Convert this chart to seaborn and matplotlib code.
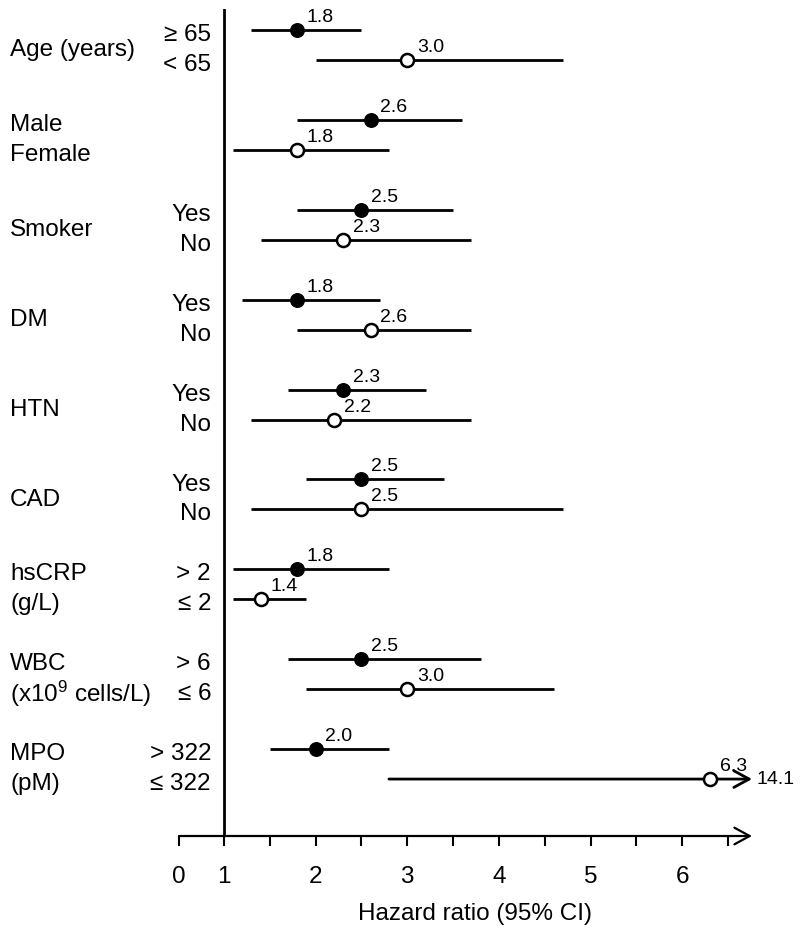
import numpy as np
import pandas as pd
import matplotlib
matplotlib.use("Agg")
import matplotlib.pyplot as plt
import matplotlib.transforms as mtransforms
from matplotlib.ticker import FixedLocator, NullFormatter
import seaborn as sns

# ---------------------------------------------------------------------------
# data
# ---------------------------------------------------------------------------
left_top = ["Age (years)", "Male", "Smoker", "DM", "HTN", "CAD", "hsCRP", "WBC", "MPO"]
left_bottom = [None, "Female", None, None, None, None, "(g/L)",
               "(x10$\\mathregular{^9}$ cells/L)", "(pM)"]
sub_top = ["≥ 65", "", "Yes", "Yes", "Yes", "Yes", "> 2", "> 6", "> 322"]
sub_bottom = ["< 65", "", "No", "No", "No", "No", "≤ 2", "≤ 6", "≤ 322"]

hr_top = [1.8, 2.6, 2.5, 1.8, 2.3, 2.5, 1.8, 2.5, 2.0]
lo_top = [1.3, 1.8, 1.8, 1.2, 1.7, 1.9, 1.1, 1.7, 1.5]
hi_top = [2.5, 3.6, 3.5, 2.7, 3.2, 3.4, 2.8, 3.8, 2.8]

hr_bottom = [3.0, 1.8, 2.3, 2.6, 2.2, 2.5, 1.4, 3.0, 6.3]
lo_bottom = [2.0, 1.1, 1.4, 1.8, 1.3, 1.3, 1.1, 1.9, 2.8]
hi_bottom = [4.7, 2.8, 3.7, 3.7, 3.7, 4.7, 1.9, 4.6, 14.1]

major_ticks = [0, 1, 2, 3, 4, 5, 6]
minor_ticks = [1.5, 2.5, 3.5, 4.5, 5.5, 6.5]

# ---------------------------------------------------------------------------
# style
# ---------------------------------------------------------------------------
sns.set_theme(style="white")
plt.rcParams['font.family'] = ['Liberation Sans', 'DejaVu Sans']
plt.rcParams['mathtext.fontset'] = 'custom'
plt.rcParams['mathtext.rm'] = 'Liberation Sans'
plt.rcParams['text.color'] = 'black'
plt.rcParams['axes.labelcolor'] = 'black'
plt.rcParams['xtick.color'] = 'black'

FS = 17.5
FS_VAL = 14
X_MAX = 6.76


def fwd(x):
    # axis is compressed between 0 and 1
    x = np.asarray(x, dtype=float)
    return np.where(x < 1, x * 0.49, x - 0.51)


def inv(y):
    y = np.asarray(y, dtype=float)
    return np.where(y < 0.49, y / 0.49, y + 0.51)


rows = []
for g in range(len(hr_top)):
    rows.append(dict(pos=g * 3, hr=hr_top[g], lo=lo_top[g], hi=hi_top[g], kind='top'))
    rows.append(dict(pos=g * 3 + 1, hr=hr_bottom[g], lo=lo_bottom[g], hi=hi_bottom[g], kind='bottom'))
df = pd.DataFrame(rows)

fig = plt.figure(figsize=(8, 9.32), dpi=100)
ax = fig.add_axes([179 / 800, (932 - 836) / 932, (752 - 179) / 800, (836 - 9) / 932])
ax.set_xscale('function', functions=(fwd, inv))
ax.set_xlim(0, X_MAX)
ax.set_ylim(26.9, -0.70)

# confidence intervals
inside = df[df['hi'] <= X_MAX]
ax.hlines(inside['pos'], inside['lo'], inside['hi'], color='black', lw=2, zorder=2)
for _, r in df[df['hi'] > X_MAX].iterrows():
    ax.annotate('', xy=(X_MAX, r['pos']), xytext=(r['lo'], r['pos']),
                arrowprops=dict(arrowstyle='->,head_length=0.55,head_width=0.3',
                                lw=2, color='black', shrinkA=0, shrinkB=0,
                                mutation_scale=20),
                annotation_clip=False, zorder=2)
    ax.annotate(f"{r['hi']:.1f}", xy=(X_MAX, r['pos']), xytext=(3, 0),
                textcoords='offset points', ha='left', va='center',
                fontsize=FS_VAL, annotation_clip=False)

# point estimates
sns.scatterplot(data=df[df['kind'] == 'top'], x='hr', y='pos', ax=ax,
                color='black', edgecolor='black', s=95, linewidth=1,
                zorder=3, clip_on=False)
sns.scatterplot(data=df[df['kind'] == 'bottom'], x='hr', y='pos', ax=ax,
                color='white', edgecolor='black', s=88, linewidth=1.8,
                zorder=3, clip_on=False)

for _, r in df.iterrows():
    ax.annotate(f"{r['hr']:.1f}", xy=(r['hr'], r['pos']), xytext=(7, 9),
                textcoords='offset points', ha='left', va='center',
                fontsize=FS_VAL, annotation_clip=False)

# reference line at HR = 1
ax.axvline(1, color='black', lw=2, zorder=1)

# row labels
trans = mtransforms.blended_transform_factory(fig.transFigure, ax.transData)
x_name = 10 / 800
x_sub = 211 / 800
dy = 0.17
for g in range(len(left_top)):
    y0 = g * 3
    if left_bottom[g] is None:
        ax.text(x_name, y0 + 0.5 + dy, left_top[g], transform=trans,
                ha='left', va='center', fontsize=FS)
    else:
        ax.text(x_name, y0 + dy, left_top[g], transform=trans,
                ha='left', va='center', fontsize=FS)
        ax.text(x_name, y0 + 1 + dy, left_bottom[g], transform=trans,
                ha='left', va='center', fontsize=FS)
    ax.text(x_sub, y0 + dy, sub_top[g], transform=trans,
            ha='right', va='center', fontsize=FS)
    ax.text(x_sub, y0 + 1 + dy, sub_bottom[g], transform=trans,
            ha='right', va='center', fontsize=FS)

# x axis with arrow
for side in ['top', 'right', 'left', 'bottom']:
    ax.spines[side].set_visible(False)
ax.annotate('', xy=(1, 0), xytext=(0, 0), xycoords='axes fraction',
            arrowprops=dict(arrowstyle='->,head_length=0.55,head_width=0.3',
                            lw=1.6, color='black', shrinkA=0, shrinkB=0,
                            mutation_scale=20),
            annotation_clip=False)
ax.xaxis.set_major_locator(FixedLocator(major_ticks))
ax.xaxis.set_minor_locator(FixedLocator(minor_ticks))
ax.xaxis.set_minor_formatter(NullFormatter())
ax.set_xticklabels([str(t) for t in major_ticks])
ax.tick_params(axis='x', which='both', bottom=True, direction='out',
               length=7.5, width=1.5, color='black', pad=14, labelsize=FS,
               labelcolor='black')
ax.set_yticks([])
ax.set_ylabel('')
ax.set_xlabel('Hazard ratio (95% CI)', fontsize=FS, color='black')
ax.xaxis.set_label_coords(0.517, -0.081)
ax.grid(False)

fig.savefig('out.png', dpi=100, facecolor='white')
